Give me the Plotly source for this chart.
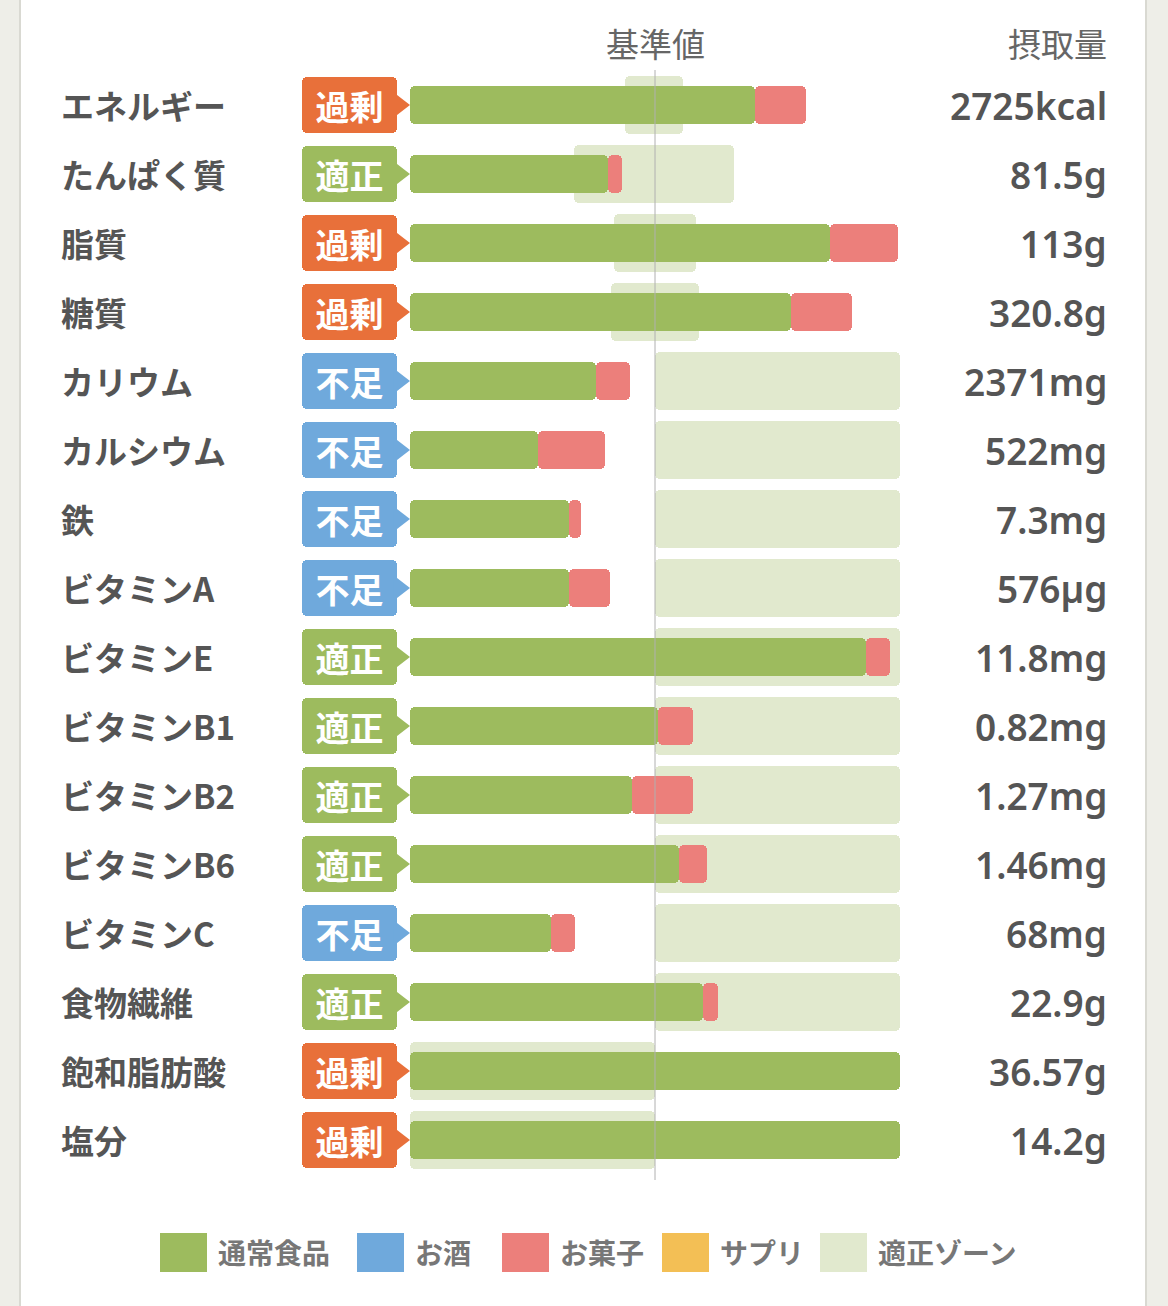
import plotly.graph_objects as go

# 栄養素ごとの摂取状況 (基準値 = 100%)
nutrients = ['エネルギー', 'たんぱく質', '脂質', '糖質', 'カリウム', 'カルシウム', '鉄',
             'ビタミンA', 'ビタミンE', 'ビタミンB1', 'ビタミンB2', 'ビタミンB6', 'ビタミンC',
             '食物繊維', '飽和脂肪酸', '塩分']
status = ['過剰', '適正', '過剰', '過剰', '不足', '不足', '不足', '不足', '適正', '適正',
          '適正', '適正', '不足', '適正', '過剰', '過剰']
intake_text = ['2725kcal', '81.5g', '113g', '320.8g', '2371mg', '522mg', '7.3mg', '576µg',
               '11.8mg', '0.82mg', '1.27mg', '1.46mg', '68mg', '22.9g', '36.57g', '14.2g']
food_pct = [140.7, 80.7, 171.3, 155.4, 75.8, 52.2, 64.9, 64.9, 186.0, 101.3, 90.5, 109.9,
            57.4, 119.7, 200, 200]
snack_pct = [20.8, 5.8, 28.0, 24.9, 14.0, 27.3, 4.8, 16.9, 9.8, 14.1, 24.9, 11.2, 9.9, 6.1,
             0, 0]
zone_lo = [87.8, 67.1, 83.1, 82.2, 100, 100, 100, 100, 100, 100, 100, 100, 100, 100, 0, 0]
zone_hi = [111.4, 132.4, 116.6, 117.8, 200, 200, 200, 200, 200, 200, 200, 200, 200, 200,
           100, 100]

legend_names = ['通常食品', 'お酒', 'お菓子', 'サプリ', '適正ゾーン']

GREEN = '#9dbb5e'
BLUE = '#6fa9dc'
PINK = '#ec7f7b'
YELLOW = '#f3bf55'
ZONE = '#e1e9ce'
ORANGE = '#e8703a'
badge_color = {'過剰': ORANGE, '適正': GREEN, '不足': BLUE}
legend_colors = [GREEN, BLUE, PINK, YELLOW, ZONE]

W, H = 1168, 1306
FONT = 'Noto Sans CJK JP'
NUMFONT = 'Noto Sans, Noto Sans CJK JP'
TXT = '#555555'

# pixel helpers (x: 0% at 410px, 100% at 655px; rows every 69px from 105px)
PX_PER_PCT = 2.45
X0_PX = 410
xmin = -X0_PX / PX_PER_PCT
xmax = xmin + W / PX_PER_PCT
ROW0, ROWH = 105, 69
ymin = -ROW0 / ROWH
ymax = (H - ROW0) / ROWH


def px2x(px):
    return (px - X0_PX) / PX_PER_PCT


def px2row(py):
    return (py - ROW0) / ROWH


rows = list(range(len(nutrients)))

fig = go.Figure()

# 適正ゾーン
fig.add_trace(go.Bar(
    y=rows, x=[h - l for l, h in zip(zone_lo, zone_hi)], base=zone_lo,
    orientation='h', width=0.83, marker=dict(color=ZONE, cornerradius=5, line_width=0),
    hoverinfo='skip', showlegend=False))

# 通常食品
fig.add_trace(go.Bar(
    y=rows, x=food_pct, base=[0] * len(rows), orientation='h', width=0.565,
    marker=dict(color=GREEN, cornerradius=5, line_width=0), name='通常食品', showlegend=False))

# お菓子
fig.add_trace(go.Bar(
    y=rows, x=snack_pct, base=food_pct, orientation='h', width=0.565,
    marker=dict(color=PINK, cornerradius=5, line_width=0), name='お菓子', showlegend=False))

# 判定バッジ
badge_l, badge_r = px2x(302), px2x(397)
fig.add_trace(go.Scatter(
    y=rows, x=[px2x(399)] * len(rows), mode='markers',
    marker=dict(symbol='triangle-right', size=22,
                color=[badge_color[s] for s in status], line_width=0),
    hoverinfo='skip', showlegend=False))
fig.add_trace(go.Bar(
    y=rows, x=[badge_r - badge_l] * len(rows), base=[badge_l] * len(rows),
    orientation='h', width=0.8,
    marker=dict(color=[badge_color[s] for s in status], cornerradius=5, line_width=0),
    text=status, textposition='inside', insidetextanchor='middle',
    textfont=dict(family=FONT, size=34, color='white', weight=700),
    hoverinfo='skip', showlegend=False))

# labels and values
for i, (name, val) in enumerate(zip(nutrients, intake_text)):
    fig.add_annotation(x=59 / W, xref='paper', y=i, yref='y', text=name,
                       xanchor='left', yanchor='middle', showarrow=False,
                       font=dict(family=FONT, size=33, color=TXT, weight=700))
    fig.add_annotation(x=1109 / W, xref='paper', y=i, yref='y', text=val,
                       xanchor='right', yanchor='middle', showarrow=False,
                       font=dict(family=NUMFONT, size=37, color=TXT, weight=600))

# headers
fig.add_annotation(x=100, xref='x', y=px2row(43), yref='y', text='基準値',
                   showarrow=False, xanchor='center', yanchor='middle',
                   font=dict(family=FONT, size=33, color='#666666'))
fig.add_annotation(x=1109 / W, xref='paper', y=px2row(43), yref='y', text='摂取量',
                   showarrow=False, xanchor='right', yanchor='middle',
                   font=dict(family=FONT, size=33, color='#666666'))

shapes = [
    # card
    dict(type='rect', xref='paper', yref='paper', x0=20 / W, x1=1146 / W, y0=0, y1=1,
         fillcolor='white', line=dict(width=0), layer='below'),
    dict(type='line', xref='paper', yref='paper', x0=20 / W, x1=20 / W, y0=0, y1=1,
         line=dict(color='#d9d9d2', width=2), layer='below'),
    dict(type='line', xref='paper', yref='paper', x0=1146 / W, x1=1146 / W, y0=0, y1=1,
         line=dict(color='#d9d9d2', width=2), layer='below'),
    # 基準値 line
    dict(type='line', xref='x', yref='y', x0=100, x1=100, y0=px2row(70), y1=px2row(1180),
         line=dict(color='#b0b0b0', width=1), layer='above'),
]

# legend
legend_box_x = [160, 357, 502, 662, 820]
for bx, name, col in zip(legend_box_x, legend_names, legend_colors):
    shapes.append(dict(type='rect', xref='paper', yref='paper',
                       x0=bx / W, x1=(bx + 47) / W, y0=1 - 1272 / H, y1=1 - 1233 / H,
                       fillcolor=col, line=dict(width=0)))
    fig.add_annotation(x=(bx + 56) / W, xref='paper', y=1 - 1252 / H, yref='paper',
                       text=name, showarrow=False, xanchor='left', yanchor='middle',
                       font=dict(family=FONT, size=28, color='#777777', weight=700))

fig.update_layout(
    width=W, height=H, autosize=False,
    margin=dict(l=0, r=0, t=0, b=0, pad=0),
    paper_bgcolor='#eeeee8', plot_bgcolor='rgba(0,0,0,0)',
    barmode='overlay', bargap=0,
    shapes=shapes,
    xaxis=dict(range=[xmin, xmax], visible=False, fixedrange=True),
    yaxis=dict(range=[ymax, ymin], visible=False, fixedrange=True),
    showlegend=False,
)

fig.write_html("out.html", config={'displayModeBar': False},
               post_script="document.body.style.margin='0';")
